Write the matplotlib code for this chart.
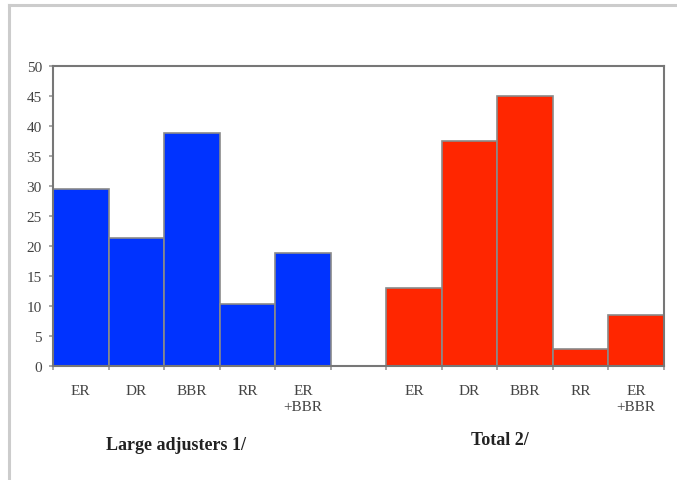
import numpy as np
import matplotlib
matplotlib.use("Agg")
import matplotlib.pyplot as plt
from matplotlib.lines import Line2D

# 카테고리와 값
categories = ['ER', 'DR', 'BBR', 'RR', 'ER\n+BBR']
large_adjusters = [29.5, 21.4, 38.9, 10.4, 18.9]
total = [13.0, 37.5, 45.0, 2.9, 8.5]
group_names = ['Large adjusters 1/', 'Total 2/']
y_ticks = [0, 5, 10, 15, 20, 25, 30, 35, 40, 45, 50]

plt.rcParams['font.family'] = ['Liberation Serif', 'DejaVu Serif']

fig = plt.figure(figsize=(6.77, 4.81), dpi=100)
ax = fig.add_axes([53/677, 1-367/481, (664-53)/677, (367-67)/481])

# 파랑 5개, 빈칸 1개, 빨강 5개
values = large_adjusters + [0] + total
colors = ['#0033ff']*5 + ['white'] + ['#ff2600']*5
labels = categories + [''] + categories
x = np.arange(len(values))
ax.bar(x, values, width=1.0, color=colors, edgecolor='#8a8a8a', linewidth=1.2)

ax.set_xlim(-0.5, len(values)-0.5)
ax.set_ylim(0, 50)
ax.set_yticks(y_ticks)
ax.set_xticks(x)
ax.set_xticklabels(labels, fontsize=11, color='#444444', linespacing=1.25)
ax.set_xticks(np.arange(len(values)+1)-0.5, minor=True)
ax.tick_params(axis='x', which='major', length=0, pad=13)
ax.tick_params(axis='x', which='minor', length=3, color='#999999', width=1.2)
ax.tick_params(axis='y', length=3, color='#999999', width=1.2, labelsize=11, labelcolor='#444444', pad=5)
for s in ax.spines.values():
    s.set_color('#777777')
    s.set_linewidth(1.5)

# 그룹 이름
fig.text(176/677, 1-446/481, group_names[0], ha='center', va='center', fontsize=13, fontweight='bold', color='#222222')
fig.text(500/677, 1-441/481, group_names[1], ha='center', va='center', fontsize=13, fontweight='bold', color='#222222')

# 바깥 테두리 (왼쪽, 위쪽)
fig.add_artist(Line2D([9/677, 9/677], [0, 1-6/481], transform=fig.transFigure, color='#cccccc', linewidth=2.2))
fig.add_artist(Line2D([9/677, 1], [1-6/481, 1-6/481], transform=fig.transFigure, color='#cccccc', linewidth=2.2))

fig.savefig('out.png', dpi=100)
